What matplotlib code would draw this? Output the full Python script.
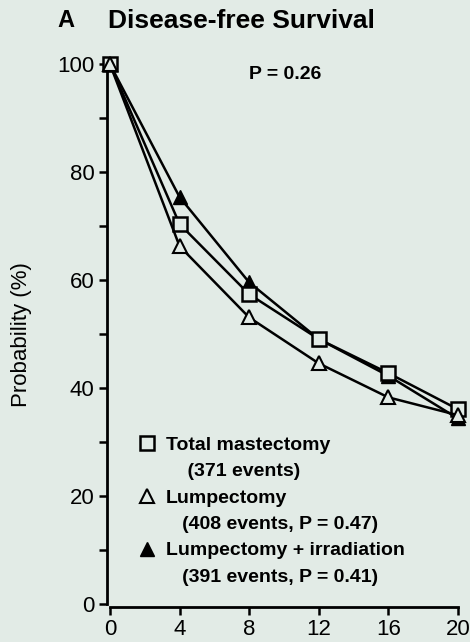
import matplotlib
matplotlib.use('Agg')
import matplotlib.pyplot as plt
from matplotlib.lines import Line2D

plt.rcParams['font.family'] = ['Liberation Sans', 'DejaVu Sans']

# Years of follow-up and survival probability (%)
years = [0, 4, 8, 12, 16, 20]
total_mastectomy = [100, 70.4, 57.4, 49.1, 42.8, 36.1]
lumpectomy = [100, 66.3, 53.1, 44.6, 38.3, 35.0]
lumpectomy_irr = [100, 75.4, 59.6, 49.1, 42.3, 34.4]

# legend lines: first line next to the symbol, second line indented below
labels = ['Total mastectomy', '    (371 events)',
          'Lumpectomy', '   (408 events, P = 0.47)',
          'Lumpectomy + irradiation', '   (391 events, P = 0.41)']

bg = '#e2ebe6'
fig = plt.figure(figsize=(4.70, 6.42), dpi=100, facecolor=bg)
ax = fig.add_axes([0.234, 0.059, 0.740, 0.841], facecolor=bg)

ax.plot(years, lumpectomy_irr, color='black', lw=1.8, marker='^', ms=10,
        mfc='black', mec='black', clip_on=False, zorder=3)
ax.plot(years, total_mastectomy, color='black', lw=1.8, marker='s', ms=10,
        mfc=bg, mec='black', mew=1.8, clip_on=False, zorder=4)
ax.plot(years, lumpectomy, color='black', lw=1.8, marker='^', ms=10,
        mfc=bg, mec='black', mew=1.5, clip_on=False, zorder=4)

ax.set_xlim(0, 20)
ax.set_ylim(0, 100)
ax.set_xticks([0, 4, 8, 12, 16, 20])
ax.set_yticks([0, 20, 40, 60, 80, 100])
ax.set_yticks([10, 30, 50, 70, 90], minor=True)
ax.tick_params(axis='both', labelsize=16, width=1.8, length=6, pad=3)
ax.tick_params(axis='y', which='minor', width=1.8, length=6)
for s in ['top', 'right']:
    ax.spines[s].set_visible(False)
for s in ['left', 'bottom']:
    ax.spines[s].set_linewidth(2)
    ax.spines[s].set_position(('outward', 2))

ax.set_ylabel('Probability (%)', fontsize=16, labelpad=18)

ax.text(10.1, 98, 'P = 0.26', fontsize=14, fontweight='bold',
        ha='center', va='center')

blank = Line2D([], [], ls='none', marker='none')
handles = [Line2D([], [], ls='none', marker='s', ms=10, mfc=bg, mec='black', mew=1.8),
           blank,
           Line2D([], [], ls='none', marker='^', ms=10, mfc=bg, mec='black', mew=1.5),
           blank,
           Line2D([], [], ls='none', marker='^', ms=10, mfc='black', mec='black'),
           blank]
leg = ax.legend(handles, labels, loc='lower left', bbox_to_anchor=(0.055, 0.016),
                frameon=False, prop={'weight': 'bold', 'size': 14},
                handlelength=0.8, handletextpad=0.6, labelspacing=0.45,
                borderpad=0)

fig.text(0.123, 0.968, 'A', fontsize=17, fontweight='bold', va='center')
fig.text(0.230, 0.968, 'Disease-free Survival', fontsize=19, fontweight='bold', va='center')

fig.savefig('out.png', dpi=100, facecolor=bg)
